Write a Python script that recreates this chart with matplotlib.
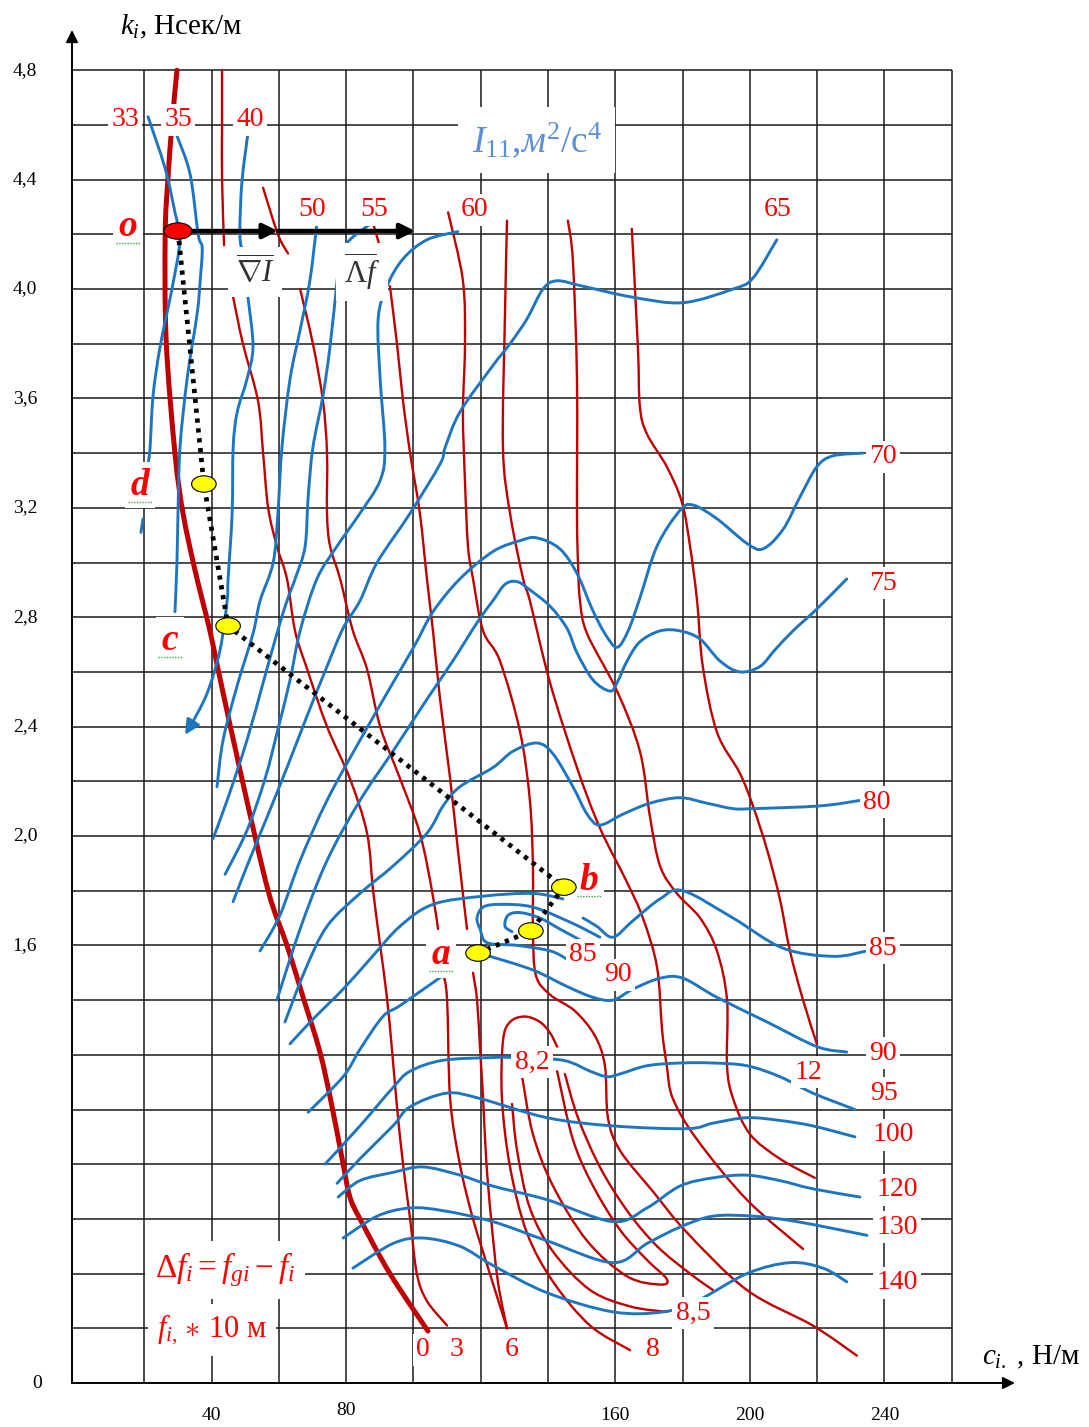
import matplotlib.pyplot as plt
from matplotlib.patches import Ellipse, PathPatch
from matplotlib.path import Path

plt.rcParams['font.family'] = ['Liberation Serif', 'DejaVu Serif']
plt.rcParams['mathtext.fontset'] = 'custom'
plt.rcParams['mathtext.rm'] = 'Liberation Serif'
plt.rcParams['mathtext.it'] = 'Liberation Serif:italic'
plt.rcParams['mathtext.bf'] = 'Liberation Serif:bold'

# ---- axes / ticks ----
c_grid = list(range(20, 261, 20))
k_grid = [round(0.2 * i, 1) for i in range(1, 25)]
k_ticks = [4.8, 4.4, 4.0, 3.6, 3.2, 2.8, 2.4, 2.0, 1.6, 0.0]
k_tick_labels = ['4,8', '4,4', '4,0', '3,6', '3,2', '2,8', '2,4', '2,0', '1,6', '0']
c_ticks = [40, 80, 160, 200, 240]

# ---- red lines: delta f contours (c, k) ----
f0_line = [(29.7, 4.80), (28.2, 4.60), (27.0, 4.40), (26.2, 4.20), (26.5, 3.81), (29.1, 3.40),
           (31.5, 3.18), (35.1, 2.97), (39.5, 2.75), (41.9, 2.61), (49.0, 2.21), (56.8, 1.80),
           (62.4, 1.60), (67.2, 1.41), (72.2, 1.21), (75.8, 1.01), (79.1, 0.80), (81.1, 0.68),
           (84.1, 0.60), (93.0, 0.40), (104.3, 0.19)]
f3_top = [(43.1, 4.80), (43.1, 4.60), (43.1, 4.40), (43.7, 4.16)]
f3_low = [(46.4, 3.97), (49.3, 3.80), (53.8, 3.59), (55.3, 3.40), (56.8, 3.20), (59.4, 3.06),
          (62.4, 2.94), (64.8, 2.75), (68.4, 2.61), (74.3, 2.40), (81.1, 2.21), (86.2, 2.01),
          (88.0, 1.80), (90.1, 1.60), (92.1, 1.41), (93.6, 1.22), (95.1, 1.01), (96.9, 0.80),
          (99.0, 0.60), (101.0, 0.40), (104.0, 0.30), (110.0, 0.21)]
f6_top = [(55.3, 4.37), (59.7, 4.20), (62.7, 4.13)]
f6_mid = [(66.3, 4.00), (70.1, 3.80), (73.1, 3.59), (74.3, 3.40), (74.3, 3.18), (75.2, 3.06),
          (78.2, 2.94), (82.0, 2.75), (86.2, 2.61), (90.1, 2.40), (96.0, 2.21), (101.9, 2.01),
          (105.5, 1.80), (107.3, 1.66)]
f6_low = [(108.8, 1.50), (110.0, 1.40), (110.9, 1.04), (113.8, 0.80), (117.7, 0.60),
          (122.7, 0.40), (127.8, 0.20)]
f7_top = [(88.0, 4.24), (90.6, 4.13)]
f7_mid = [(93.0, 4.01), (95.1, 3.80), (96.9, 3.59), (99.0, 3.40), (101.9, 3.18), (104.0, 2.94),
          (105.8, 2.75), (107.9, 2.50), (110.9, 2.21), (113.2, 1.95), (115.9, 1.66)]
f7_low = [(117.7, 1.50), (118.9, 1.40), (119.8, 1.22), (120.7, 1.04), (121.6, 0.82),
          (123.0, 0.61), (125.1, 0.37), (127.8, 0.20)]
f9_line = [(110.3, 4.28), (114.7, 4.03), (115.3, 3.79), (114.7, 3.55), (115.3, 3.30), (116.2, 3.06),
           (117.7, 2.94), (120.7, 2.75), (125.7, 2.64), (131.7, 2.38), (134.6, 2.13), (135.5, 1.89),
           (135.5, 1.65), (136.4, 1.49), (140.6, 1.42), (148.0, 1.36), (153.9, 1.27), (156.9, 1.16),
           (157.8, 0.97), (161.4, 0.85), (171.2, 0.70), (181.3, 0.55), (199.1, 0.34), (218.7, 0.21),
           (231.8, 0.10)]
f10_line = [(127.8, 4.25), (127.2, 3.91), (126.6, 3.42), (128.7, 3.18), (132.6, 2.94), (134.6, 2.86),
            (140.6, 2.56), (148.6, 2.25), (155.4, 2.03), (163.5, 1.83), (168.2, 1.70), (172.4, 1.52),
            (173.9, 1.29), (175.3, 1.16), (177.1, 1.04), (184.3, 0.89), (199.1, 0.67), (215.8, 0.49)]
f11_line = [(145.9, 4.25), (147.4, 4.10), (148.6, 3.67), (148.6, 3.18), (148.9, 3.00), (149.5, 2.86),
            (151.6, 2.74), (160.5, 2.53), (167.3, 2.31), (170.3, 2.07), (173.3, 1.89), (178.3, 1.79),
            (185.2, 1.70), (190.2, 1.58), (193.2, 1.40), (193.2, 1.16), (195.0, 1.04), (200.0, 0.91),
            (208.9, 0.82), (219.3, 0.75)]
f12_line = [(164.9, 4.22), (166.7, 3.79), (167.3, 3.57), (169.4, 3.47), (175.3, 3.35), (179.8, 3.22),
            (182.2, 3.06), (184.3, 2.86), (186.0, 2.62), (190.2, 2.38), (197.0, 2.23), (200.9, 2.11),
            (205.1, 1.95), (208.9, 1.77), (211.9, 1.58), (215.8, 1.40), (219.9, 1.24)]
f8_loop = [(164.4, 0.12), (152.5, 0.21), (141.5, 0.37), (133.7, 0.55), (128.7, 0.79), (126.3, 1.04),
           (126.6, 1.25), (128.7, 1.32), (133.1, 1.34), (137.6, 1.32), (140.6, 1.28), (142.7, 1.23)]
f8_tail = [(145.0, 1.13), (148.9, 0.97), (155.4, 0.79), (163.5, 0.63), (172.4, 0.50), (182.2, 0.40),
           (189.0, 0.34)]
f82_loop = [(132.3, 1.12), (135.5, 0.91), (141.5, 0.72), (151.6, 0.52), (163.5, 0.39), (173.3, 0.36),
            (175.3, 0.38), (169.4, 0.45), (161.4, 0.56), (153.4, 0.72), (147.4, 0.89), (142.7, 1.14)]
f85_line = [(129.3, 1.02), (130.8, 0.85), (134.6, 0.64), (141.5, 0.48), (152.5, 0.34), (164.4, 0.28),
            (175.3, 0.26)]

# ---- blue lines: I11 contours (c, k) ----
i33_top = [(21.1, 4.63), (26.2, 4.44), (29.1, 4.28), (30.6, 4.18), (28.2, 4.00), (24.7, 3.79),
           (22.6, 3.61), (21.7, 3.42), (21.1, 3.36)]
i33_low = [(19.6, 3.16), (19.0, 3.11)]
i35_line = [(29.7, 4.56), (33.6, 4.42), (36.0, 4.20), (37.2, 4.15), (36.6, 4.03), (35.7, 3.91),
            (32.7, 3.67), (30.6, 3.42), (30.0, 3.18), (29.7, 3.00), (29.1, 2.82)]
i40_top = [(50.8, 4.57), (49.0, 4.39), (48.4, 4.20), (49.3, 4.13)]
i40_low = [(50.8, 3.97), (52.3, 3.79), (50.5, 3.67), (47.6, 3.55), (46.4, 3.42), (46.1, 3.18),
           (44.9, 2.94), (44.6, 2.86), (42.5, 2.68), (38.6, 2.52), (33.6, 2.40), (32.1, 2.37)]
i50_line = [(71.3, 4.24), (69.2, 4.03), (66.3, 3.85), (63.3, 3.67), (60.9, 3.42), (59.7, 3.18),
            (58.3, 3.00), (54.4, 2.86), (52.3, 2.74), (47.6, 2.55), (43.4, 2.35), (41.6, 2.18)]
i55_line = [(88.6, 4.25), (81.1, 4.18), (78.2, 4.12), (77.3, 4.03), (75.2, 3.79), (73.1, 3.61),
            (70.1, 3.42), (68.7, 3.24), (67.8, 3.06), (65.1, 2.95), (62.4, 2.86), (59.4, 2.74),
            (55.3, 2.56), (50.5, 2.35), (44.6, 2.13), (40.4, 1.99)]
i60_line = [(113.2, 4.21), (104.0, 4.18), (96.9, 4.11), (92.1, 4.01), (89.5, 3.89), (90.1, 3.67),
            (91.5, 3.42), (90.1, 3.30), (84.1, 3.18), (77.3, 3.06), (71.3, 2.94), (66.3, 2.75),
            (63.3, 2.57), (59.7, 2.39), (55.9, 2.21), (50.5, 2.02), (44.0, 1.86)]
i65_line = [(208.0, 4.18), (200.9, 4.04), (195.0, 4.00), (180.1, 3.95), (165.2, 3.97), (150.4, 4.01),
            (142.7, 4.03), (138.5, 4.00), (133.7, 3.89), (128.7, 3.80), (123.6, 3.72), (113.8, 3.55),
            (109.4, 3.42), (107.9, 3.36), (99.0, 3.18), (89.2, 3.00), (84.1, 2.86), (79.1, 2.76),
            (74.3, 2.62), (68.4, 2.44), (62.4, 2.25), (56.5, 2.07), (50.5, 1.89), (46.4, 1.76)]
i70_line = [(233.6, 3.40), (224.7, 3.39), (219.9, 3.35), (214.9, 3.24), (209.8, 3.12), (203.9, 3.05),
            (199.1, 3.07), (190.2, 3.16), (183.1, 3.21), (179.2, 3.19), (172.4, 3.06), (167.3, 2.87),
            (163.8, 2.75), (160.5, 2.69), (156.9, 2.74), (153.1, 2.83), (148.6, 2.96), (143.5, 3.05),
            (136.7, 3.09), (131.7, 3.08), (123.6, 3.04), (113.8, 2.94), (105.8, 2.82), (100.5, 2.70),
            (93.9, 2.56), (84.1, 2.35), (74.3, 2.13), (66.3, 1.91), (60.3, 1.71), (54.4, 1.58)]
i75_line = [(228.8, 2.94), (219.9, 2.83), (212.8, 2.75), (207.4, 2.68), (203.0, 2.62), (197.0, 2.60),
            (191.1, 2.64), (185.2, 2.72), (179.2, 2.75), (173.3, 2.75), (167.3, 2.71), (163.5, 2.64),
            (160.5, 2.56), (158.4, 2.53), (153.4, 2.57), (148.6, 2.67), (145.6, 2.76), (140.6, 2.84),
            (134.6, 2.90), (130.8, 2.93), (127.2, 2.92), (123.6, 2.86), (118.9, 2.78), (111.7, 2.64),
            (104.0, 2.50), (93.9, 2.31), (84.1, 2.13), (74.3, 1.91), (66.3, 1.66), (59.4, 1.40)]
i80_line = [(232.7, 2.13), (220.8, 2.11), (200.9, 2.10), (195.0, 2.10), (187.2, 2.12), (179.2, 2.14),
            (170.3, 2.12), (162.3, 2.08), (155.4, 2.04), (151.6, 2.08), (147.4, 2.18), (141.5, 2.30),
            (136.7, 2.34), (129.6, 2.31), (123.6, 2.25), (113.8, 2.18), (108.8, 2.11), (104.0, 2.01),
            (93.9, 1.89), (84.1, 1.79), (74.3, 1.67), (67.8, 1.51), (61.8, 1.32)]
hump_line = [(63.3, 1.24), (70.1, 1.33), (79.1, 1.44), (87.1, 1.55), (96.0, 1.67), (105.8, 1.75),
             (120.7, 1.78), (135.5, 1.79), (144.4, 1.77)]
i85_line = [(234.8, 1.58), (224.7, 1.56), (209.8, 1.59), (195.0, 1.70), (180.1, 1.80), (173.3, 1.77),
            (165.2, 1.69), (159.3, 1.63), (154.5, 1.67), (150.4, 1.70)]
pin_outer = [(155.4, 1.63), (147.4, 1.68), (135.5, 1.74), (125.7, 1.75), (120.7, 1.74), (118.9, 1.70),
             (119.8, 1.66), (121.9, 1.61), (130.8, 1.60), (140.6, 1.58), (145.6, 1.55)]
pin_inner = [(149.5, 1.62), (143.5, 1.66), (137.6, 1.70), (131.7, 1.72), (128.1, 1.71), (127.2, 1.67),
             (129.3, 1.65)]
i90_right = [(228.8, 1.21), (219.9, 1.23), (205.1, 1.32), (190.2, 1.41), (180.1, 1.48), (173.3, 1.48),
             (165.2, 1.44), (159.3, 1.40), (153.4, 1.41), (145.6, 1.45), (135.5, 1.51), (122.7, 1.56),
             (118.9, 1.57)]
i90_left = [(108.8, 1.49), (96.0, 1.38), (90.9, 1.34), (84.1, 1.22), (79.1, 1.12), (68.7, 0.99)]
i95_line = [(73.7, 0.80), (84.1, 0.94), (93.9, 1.08), (99.0, 1.14), (108.8, 1.18), (123.6, 1.19),
            (129.6, 1.19), (144.4, 1.18), (152.5, 1.14), (157.5, 1.12), (161.4, 1.13), (169.4, 1.16),
            (179.2, 1.17), (189.0, 1.17), (199.1, 1.16), (208.9, 1.12), (218.7, 1.06), (231.2, 1.00)]
i100_line = [(77.3, 0.73), (84.1, 0.82), (93.9, 0.94), (99.0, 1.01), (110.0, 1.06), (119.8, 1.04),
             (139.7, 0.97), (159.3, 0.94), (181.3, 0.93), (189.0, 0.95), (199.1, 0.97), (208.9, 0.96),
             (218.7, 0.94), (231.2, 0.90)]
i120_line = [(77.6, 0.68), (84.1, 0.74), (93.9, 0.77), (102.8, 0.79), (113.8, 0.76), (123.6, 0.72),
             (139.7, 0.67), (159.3, 0.59), (169.4, 0.64), (179.2, 0.72), (189.0, 0.75), (199.1, 0.76),
             (208.9, 0.74), (218.7, 0.71), (232.7, 0.68)]
i130_line = [(79.1, 0.53), (89.2, 0.61), (99.0, 0.64), (108.8, 0.63), (123.6, 0.59), (139.7, 0.52),
             (159.3, 0.44), (169.4, 0.51), (179.2, 0.57), (189.0, 0.61), (200.9, 0.61), (214.0, 0.59),
             (234.8, 0.54)]
i140_line = [(82.0, 0.42), (93.9, 0.51), (102.8, 0.53), (113.8, 0.50), (123.6, 0.43), (139.7, 0.33),
             (159.3, 0.26), (174.2, 0.26), (184.3, 0.30), (199.1, 0.40), (211.9, 0.44), (221.7, 0.42),
             (228.8, 0.37)]

# ---- search path: o -> d -> c -> b -> m -> a ----
path_names = ['o', 'd', 'c', 'b', 'm', 'a']
path_c = [30.0, 37.7, 44.9, 144.7, 134.9, 119.2]
path_k = [4.212, 3.287, 2.768, 1.813, 1.653, 1.572]

# ---- labels ----
blue_labels = [('33', 14.3, 4.618), ('35', 30.0, 4.618), ('40', 51.4, 4.618), ('50', 69.8, 4.289),
               ('55', 88.3, 4.289), ('60', 118.3, 4.289), ('65', 208.3, 4.289), ('70', 239.5, 3.386),
               ('75', 239.5, 2.925), ('80', 237.8, 2.124), ('85', 239.5, 1.590), ('90', 239.5, 1.206),
               ('95', 239.8, 1.060), ('100', 242.5, 0.907), ('120', 243.7, 0.706),
               ('130', 243.7, 0.570), ('140', 243.7, 0.366), ('85', 150.4, 1.565), ('90', 160.8, 1.492)]
red_labels = [('8,2', 135.2, 1.174), ('12', 217.3, 1.137), ('8,5', 183.1, 0.256), ('0', 102.8, 0.121),
              ('3', 112.9, 0.121), ('6', 129.3, 0.121), ('8', 171.2, 0.121)]
point_labels = [('o', 15.2, 4.230), ('d', 18.7, 3.283), ('c', 27.6, 2.716), ('a', 108.2, 1.565),
                ('b', 152.2, 1.839)]

RED = '#C00000'
BLUE = '#1E76C0'
LRED = '#FF0000'

W, H = 1089, 1427
fig = plt.figure(figsize=(W / 100, H / 100), dpi=100)
ax = fig.add_axes([72 / W, 44 / H, (1015 - 72) / W, (1383 - 30) / H])
ax.set_xlim(-1.5, 278.8)
ax.set_ylim(0, 4.947)
ax.axis('off')

# grid
ax.vlines(c_grid, 0, 4.8, color='#1a1a1a', lw=1.1, zorder=1)
ax.hlines(k_grid, -1.5, 260, color='#1a1a1a', lw=1.1, zorder=1)

# axes with arrows
arw = dict(arrowstyle='-|>', color='black', lw=1.4, mutation_scale=18, shrinkA=0, shrinkB=0)
ax.annotate('', xy=(278.8, 0), xytext=(-1.5, 0), arrowprops=arw, annotation_clip=False)
ax.annotate('', xy=(-1.5, 4.947), xytext=(-1.5, 0), arrowprops=arw, annotation_clip=False)


def smooth(p):
    # smooth curve through the read points (Catmull-Rom as cubic Bezier)
    verts = [p[0]]
    codes = [Path.MOVETO]
    n = len(p)
    for i in range(n - 1):
        p0 = p[i - 1] if i > 0 else p[i]
        p1, p2 = p[i], p[i + 1]
        p3 = p[i + 2] if i + 2 < n else p[i + 1]
        c1 = (p1[0] + (p2[0] - p0[0]) / 6, p1[1] + (p2[1] - p0[1]) / 6)
        c2 = (p2[0] - (p3[0] - p1[0]) / 6, p2[1] - (p3[1] - p1[1]) / 6)
        verts += [c1, c2, p2]
        codes += [Path.CURVE4] * 3
    return Path(verts, codes)


def draw(pieces, color, lw):
    for p in pieces:
        ax.add_patch(PathPatch(smooth(p), fc='none', ec=color, lw=lw, capstyle='round',
                               joinstyle='round', zorder=2))


draw([f0_line], RED, 3.6)
draw([f3_top, f3_low, f6_top, f6_mid, f6_low, f7_top, f7_mid, f7_low, f9_line, f10_line,
      f11_line, f12_line, f8_loop, f8_tail, f82_loop, f85_line], RED, 1.7)
draw([i33_top, i33_low, i35_line, i40_top, i40_low[:-1], i50_line, i55_line, i60_line, i65_line,
      i70_line, i75_line, i80_line, hump_line, i85_line, pin_outer, pin_inner, i90_right,
      i90_left, i95_line, i100_line, i120_line, i130_line, i140_line], BLUE, 2.1)
# arrow tip of the 40 line
ax.annotate('', xy=i40_low[-1], xytext=i40_low[-2],
            arrowprops=dict(arrowstyle='-|>', color=BLUE, lw=2.1, mutation_scale=22,
                            shrinkA=0, shrinkB=0), zorder=3)

# gradient arrow from o
thick = dict(arrowstyle='-|>', color='black', lw=3.2, mutation_scale=22, shrinkA=0, shrinkB=0)
ax.annotate('', xy=(59.7, path_k[0]), xytext=(path_c[0], path_k[0]), arrowprops=thick, zorder=4)
ax.annotate('', xy=(100.5, path_k[0]), xytext=(59.7, path_k[0]), arrowprops=thick, zorder=4)

# dotted search path
ax.plot(path_c, path_k, color='black', lw=3.4, ls=(0, (0.9, 1.2)), zorder=4)
for i, (pc, pk) in enumerate(zip(path_c, path_k)):
    fc = '#FF0000' if i == 0 else '#FFFF00'
    w = 8.3 if i == 0 else 7.3
    ax.add_patch(Ellipse((pc, pk), w, 0.06, fc=fc, ec='black', lw=0.8, zorder=8))

box = dict(boxstyle='square,pad=0.12', fc='white', ec='none')
for t, c, k in blue_labels + red_labels:
    ax.text(c, k, t, color=LRED, fontsize=20, ha='center', va='center', bbox=box, zorder=6)

for t, c, k in point_labels:
    ax.text(c, k, t, color=LRED, fontsize=27, fontweight='bold', fontstyle='italic',
            ha='center', va='center', zorder=6,
            bbox=dict(boxstyle='square,pad=0.15', fc='white', ec='none'))
    ax.plot([c - 3.5, c + 3.5], [k - 0.06, k - 0.06], color='#3BA93B', lw=1.0, ls=(0, (1, 1)),
            zorder=7)

ax.text(52.9, 4.062, r'$\overline{\nabla I}$', fontsize=22, color='#333333', ha='center',
        va='center', zorder=6, bbox=dict(boxstyle='square,pad=0.25', fc='white', ec='none'))
ax.text(84.7, 4.062, r'$\overline{\Lambda f}$', fontsize=22, color='#333333', ha='center',
        va='center', zorder=6, bbox=dict(boxstyle='square,pad=0.25', fc='white', ec='none'))
ax.text(136.7, 4.545, r'$I_{11}$,$м^2/\mathrm{c}^4$', fontsize=27, color='#5B8FD6', ha='center',
        va='center', zorder=6, bbox=dict(boxstyle='square,pad=0.35', fc='white', ec='none'))
ax.text(44.0, 0.413, r'$\Delta f_i = f_{gi} - f_i$', fontsize=24, color=LRED, ha='center',
        va='center', zorder=6, bbox=dict(boxstyle='square,pad=0.3', fc='white', ec='none'))
ax.text(40.1, 0.194, r'$f_{i,}\ast\,$10 м', fontsize=22, color=LRED, ha='center',
        va='center', zorder=6, bbox=dict(boxstyle='square,pad=0.3', fc='white', ec='none'))

# tick labels
for k, lbl in zip(k_ticks, k_tick_labels):
    ax.text(-15.5 if lbl != '0' else -12.0, k, lbl, fontsize=14, ha='center', va='center',
            clip_on=False)
for c in c_ticks:
    ax.text(c, -0.12 if c != 80 else -0.10, str(c), fontsize=14, ha='center', va='center',
            clip_on=False)

ax.text(12.8, 4.958, r'$k_i$, Нсек/м', fontsize=21, ha='left', va='center', clip_on=False)
ax.text(269.0, 0.095, r'$c_{i.}$ , Н/м', fontsize=21, ha='left', va='center', clip_on=False)

fig.savefig('out.png', dpi=100)
